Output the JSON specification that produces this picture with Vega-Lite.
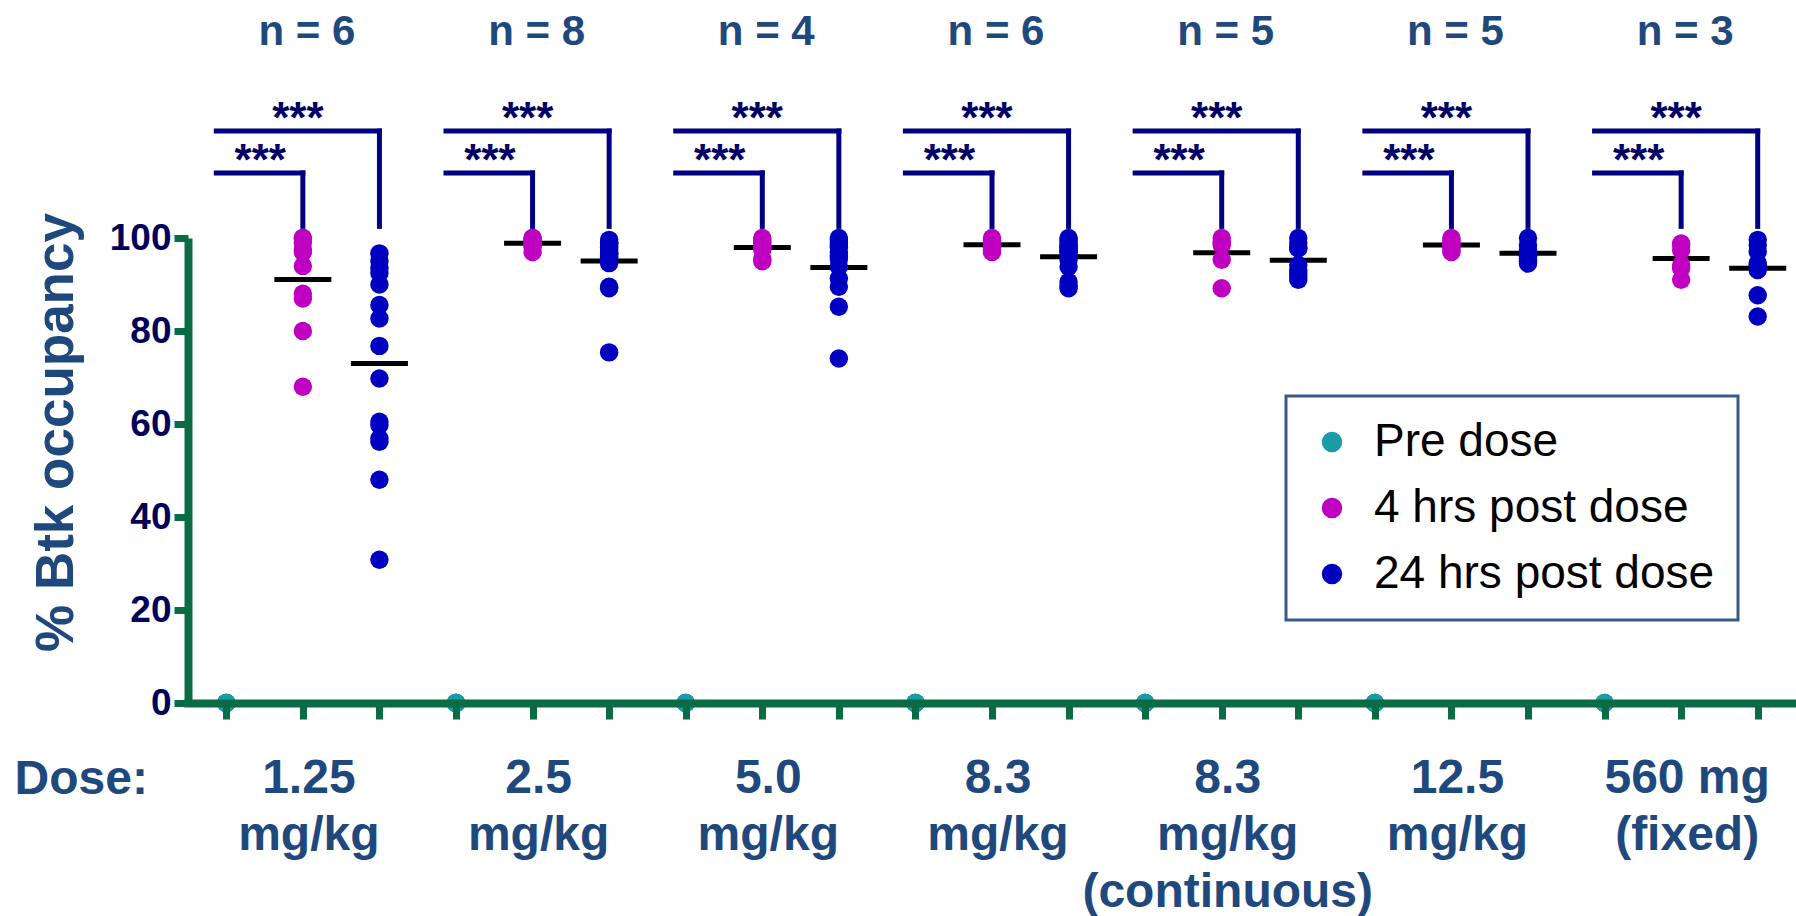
{
  "$schema": "https://vega.github.io/schema/vega-lite/v6.json",
  "width": 1608,
  "height": 465,
  "autosize": {"type": "none"},
  "padding": {"left": 188, "top": 238, "right": 0, "bottom": 213},
  "background": "white",
  "config": {"view": {"stroke": null}, "font": "Liberation Sans", "legend": {"strokeWidth": 3}},
  "datasets": {
    "groups": [
      {"dose": "1.25 mg/kg", "label": "1.25\nmg/kg", "n": "n = 6", "stars": "***", "pre": "1.25 mg/kg | Pre dose", "h4": "1.25 mg/kg | 4 hrs post dose", "h24": "1.25 mg/kg | 24 hrs post dose"},
      {"dose": "2.5 mg/kg", "label": "2.5\nmg/kg", "n": "n = 8", "stars": "***", "pre": "2.5 mg/kg | Pre dose", "h4": "2.5 mg/kg | 4 hrs post dose", "h24": "2.5 mg/kg | 24 hrs post dose"},
      {"dose": "5.0 mg/kg", "label": "5.0\nmg/kg", "n": "n = 4", "stars": "***", "pre": "5.0 mg/kg | Pre dose", "h4": "5.0 mg/kg | 4 hrs post dose", "h24": "5.0 mg/kg | 24 hrs post dose"},
      {"dose": "8.3 mg/kg", "label": "8.3\nmg/kg", "n": "n = 6", "stars": "***", "pre": "8.3 mg/kg | Pre dose", "h4": "8.3 mg/kg | 4 hrs post dose", "h24": "8.3 mg/kg | 24 hrs post dose"},
      {"dose": "8.3 mg/kg (continuous)", "label": "8.3\nmg/kg\n(continuous)", "n": "n = 5", "stars": "***", "pre": "8.3 mg/kg (continuous) | Pre dose", "h4": "8.3 mg/kg (continuous) | 4 hrs post dose", "h24": "8.3 mg/kg (continuous) | 24 hrs post dose"},
      {"dose": "12.5 mg/kg", "label": "12.5\nmg/kg", "n": "n = 5", "stars": "***", "pre": "12.5 mg/kg | Pre dose", "h4": "12.5 mg/kg | 4 hrs post dose", "h24": "12.5 mg/kg | 24 hrs post dose"},
      {"dose": "560 mg (fixed)", "label": "560 mg\n(fixed)", "n": "n = 3", "stars": "***", "pre": "560 mg (fixed) | Pre dose", "h4": "560 mg (fixed) | 4 hrs post dose", "h24": "560 mg (fixed) | 24 hrs post dose"}
    ],
    "points": [
      {"col": "1.25 mg/kg | Pre dose", "time": "Pre dose", "occ": 0},
      {"col": "1.25 mg/kg | Pre dose", "time": "Pre dose", "occ": 0},
      {"col": "1.25 mg/kg | Pre dose", "time": "Pre dose", "occ": 0},
      {"col": "1.25 mg/kg | Pre dose", "time": "Pre dose", "occ": 0},
      {"col": "1.25 mg/kg | Pre dose", "time": "Pre dose", "occ": 0},
      {"col": "1.25 mg/kg | Pre dose", "time": "Pre dose", "occ": 0},
      {"col": "1.25 mg/kg | 4 hrs post dose", "time": "4 hrs post dose", "occ": 100},
      {"col": "1.25 mg/kg | 4 hrs post dose", "time": "4 hrs post dose", "occ": 100},
      {"col": "1.25 mg/kg | 4 hrs post dose", "time": "4 hrs post dose", "occ": 99},
      {"col": "1.25 mg/kg | 4 hrs post dose", "time": "4 hrs post dose", "occ": 97},
      {"col": "1.25 mg/kg | 4 hrs post dose", "time": "4 hrs post dose", "occ": 97.5},
      {"col": "1.25 mg/kg | 4 hrs post dose", "time": "4 hrs post dose", "occ": 94},
      {"col": "1.25 mg/kg | 4 hrs post dose", "time": "4 hrs post dose", "occ": 88},
      {"col": "1.25 mg/kg | 4 hrs post dose", "time": "4 hrs post dose", "occ": 87},
      {"col": "1.25 mg/kg | 4 hrs post dose", "time": "4 hrs post dose", "occ": 80},
      {"col": "1.25 mg/kg | 4 hrs post dose", "time": "4 hrs post dose", "occ": 68},
      {"col": "1.25 mg/kg | 24 hrs post dose", "time": "24 hrs post dose", "occ": 96.7},
      {"col": "1.25 mg/kg | 24 hrs post dose", "time": "24 hrs post dose", "occ": 95},
      {"col": "1.25 mg/kg | 24 hrs post dose", "time": "24 hrs post dose", "occ": 93.5},
      {"col": "1.25 mg/kg | 24 hrs post dose", "time": "24 hrs post dose", "occ": 92.5},
      {"col": "1.25 mg/kg | 24 hrs post dose", "time": "24 hrs post dose", "occ": 90},
      {"col": "1.25 mg/kg | 24 hrs post dose", "time": "24 hrs post dose", "occ": 85.6},
      {"col": "1.25 mg/kg | 24 hrs post dose", "time": "24 hrs post dose", "occ": 82.7},
      {"col": "1.25 mg/kg | 24 hrs post dose", "time": "24 hrs post dose", "occ": 76.8},
      {"col": "1.25 mg/kg | 24 hrs post dose", "time": "24 hrs post dose", "occ": 69.8},
      {"col": "1.25 mg/kg | 24 hrs post dose", "time": "24 hrs post dose", "occ": 60.5},
      {"col": "1.25 mg/kg | 24 hrs post dose", "time": "24 hrs post dose", "occ": 59.8},
      {"col": "1.25 mg/kg | 24 hrs post dose", "time": "24 hrs post dose", "occ": 56.9},
      {"col": "1.25 mg/kg | 24 hrs post dose", "time": "24 hrs post dose", "occ": 56.2},
      {"col": "1.25 mg/kg | 24 hrs post dose", "time": "24 hrs post dose", "occ": 48},
      {"col": "1.25 mg/kg | 24 hrs post dose", "time": "24 hrs post dose", "occ": 30.8},
      {"col": "2.5 mg/kg | Pre dose", "time": "Pre dose", "occ": 0},
      {"col": "2.5 mg/kg | Pre dose", "time": "Pre dose", "occ": 0},
      {"col": "2.5 mg/kg | Pre dose", "time": "Pre dose", "occ": 0},
      {"col": "2.5 mg/kg | Pre dose", "time": "Pre dose", "occ": 0},
      {"col": "2.5 mg/kg | Pre dose", "time": "Pre dose", "occ": 0},
      {"col": "2.5 mg/kg | Pre dose", "time": "Pre dose", "occ": 0},
      {"col": "2.5 mg/kg | Pre dose", "time": "Pre dose", "occ": 0},
      {"col": "2.5 mg/kg | Pre dose", "time": "Pre dose", "occ": 0},
      {"col": "2.5 mg/kg | 4 hrs post dose", "time": "4 hrs post dose", "occ": 100},
      {"col": "2.5 mg/kg | 4 hrs post dose", "time": "4 hrs post dose", "occ": 100},
      {"col": "2.5 mg/kg | 4 hrs post dose", "time": "4 hrs post dose", "occ": 99.5},
      {"col": "2.5 mg/kg | 4 hrs post dose", "time": "4 hrs post dose", "occ": 99},
      {"col": "2.5 mg/kg | 4 hrs post dose", "time": "4 hrs post dose", "occ": 99},
      {"col": "2.5 mg/kg | 4 hrs post dose", "time": "4 hrs post dose", "occ": 98.5},
      {"col": "2.5 mg/kg | 4 hrs post dose", "time": "4 hrs post dose", "occ": 98},
      {"col": "2.5 mg/kg | 4 hrs post dose", "time": "4 hrs post dose", "occ": 97},
      {"col": "2.5 mg/kg | 24 hrs post dose", "time": "24 hrs post dose", "occ": 99.6},
      {"col": "2.5 mg/kg | 24 hrs post dose", "time": "24 hrs post dose", "occ": 99},
      {"col": "2.5 mg/kg | 24 hrs post dose", "time": "24 hrs post dose", "occ": 99},
      {"col": "2.5 mg/kg | 24 hrs post dose", "time": "24 hrs post dose", "occ": 99},
      {"col": "2.5 mg/kg | 24 hrs post dose", "time": "24 hrs post dose", "occ": 98.5},
      {"col": "2.5 mg/kg | 24 hrs post dose", "time": "24 hrs post dose", "occ": 98},
      {"col": "2.5 mg/kg | 24 hrs post dose", "time": "24 hrs post dose", "occ": 97.5},
      {"col": "2.5 mg/kg | 24 hrs post dose", "time": "24 hrs post dose", "occ": 97},
      {"col": "2.5 mg/kg | 24 hrs post dose", "time": "24 hrs post dose", "occ": 96.8},
      {"col": "2.5 mg/kg | 24 hrs post dose", "time": "24 hrs post dose", "occ": 96.5},
      {"col": "2.5 mg/kg | 24 hrs post dose", "time": "24 hrs post dose", "occ": 96},
      {"col": "2.5 mg/kg | 24 hrs post dose", "time": "24 hrs post dose", "occ": 95.7},
      {"col": "2.5 mg/kg | 24 hrs post dose", "time": "24 hrs post dose", "occ": 95},
      {"col": "2.5 mg/kg | 24 hrs post dose", "time": "24 hrs post dose", "occ": 94.6},
      {"col": "2.5 mg/kg | 24 hrs post dose", "time": "24 hrs post dose", "occ": 89.5},
      {"col": "2.5 mg/kg | 24 hrs post dose", "time": "24 hrs post dose", "occ": 89.2},
      {"col": "2.5 mg/kg | 24 hrs post dose", "time": "24 hrs post dose", "occ": 75.4},
      {"col": "5.0 mg/kg | Pre dose", "time": "Pre dose", "occ": 0},
      {"col": "5.0 mg/kg | Pre dose", "time": "Pre dose", "occ": 0},
      {"col": "5.0 mg/kg | Pre dose", "time": "Pre dose", "occ": 0},
      {"col": "5.0 mg/kg | Pre dose", "time": "Pre dose", "occ": 0},
      {"col": "5.0 mg/kg | 4 hrs post dose", "time": "4 hrs post dose", "occ": 100},
      {"col": "5.0 mg/kg | 4 hrs post dose", "time": "4 hrs post dose", "occ": 99.5},
      {"col": "5.0 mg/kg | 4 hrs post dose", "time": "4 hrs post dose", "occ": 99},
      {"col": "5.0 mg/kg | 4 hrs post dose", "time": "4 hrs post dose", "occ": 99},
      {"col": "5.0 mg/kg | 4 hrs post dose", "time": "4 hrs post dose", "occ": 98},
      {"col": "5.0 mg/kg | 4 hrs post dose", "time": "4 hrs post dose", "occ": 97.5},
      {"col": "5.0 mg/kg | 4 hrs post dose", "time": "4 hrs post dose", "occ": 95.5},
      {"col": "5.0 mg/kg | 4 hrs post dose", "time": "4 hrs post dose", "occ": 95},
      {"col": "5.0 mg/kg | 24 hrs post dose", "time": "24 hrs post dose", "occ": 100},
      {"col": "5.0 mg/kg | 24 hrs post dose", "time": "24 hrs post dose", "occ": 99.6},
      {"col": "5.0 mg/kg | 24 hrs post dose", "time": "24 hrs post dose", "occ": 99},
      {"col": "5.0 mg/kg | 24 hrs post dose", "time": "24 hrs post dose", "occ": 98.5},
      {"col": "5.0 mg/kg | 24 hrs post dose", "time": "24 hrs post dose", "occ": 98},
      {"col": "5.0 mg/kg | 24 hrs post dose", "time": "24 hrs post dose", "occ": 97},
      {"col": "5.0 mg/kg | 24 hrs post dose", "time": "24 hrs post dose", "occ": 96},
      {"col": "5.0 mg/kg | 24 hrs post dose", "time": "24 hrs post dose", "occ": 95.5},
      {"col": "5.0 mg/kg | 24 hrs post dose", "time": "24 hrs post dose", "occ": 93.8},
      {"col": "5.0 mg/kg | 24 hrs post dose", "time": "24 hrs post dose", "occ": 91.3},
      {"col": "5.0 mg/kg | 24 hrs post dose", "time": "24 hrs post dose", "occ": 89.5},
      {"col": "5.0 mg/kg | 24 hrs post dose", "time": "24 hrs post dose", "occ": 85.2},
      {"col": "5.0 mg/kg | 24 hrs post dose", "time": "24 hrs post dose", "occ": 74.1},
      {"col": "8.3 mg/kg | Pre dose", "time": "Pre dose", "occ": 0},
      {"col": "8.3 mg/kg | Pre dose", "time": "Pre dose", "occ": 0},
      {"col": "8.3 mg/kg | Pre dose", "time": "Pre dose", "occ": 0},
      {"col": "8.3 mg/kg | Pre dose", "time": "Pre dose", "occ": 0},
      {"col": "8.3 mg/kg | Pre dose", "time": "Pre dose", "occ": 0},
      {"col": "8.3 mg/kg | Pre dose", "time": "Pre dose", "occ": 0},
      {"col": "8.3 mg/kg | 4 hrs post dose", "time": "4 hrs post dose", "occ": 100},
      {"col": "8.3 mg/kg | 4 hrs post dose", "time": "4 hrs post dose", "occ": 99.5},
      {"col": "8.3 mg/kg | 4 hrs post dose", "time": "4 hrs post dose", "occ": 99},
      {"col": "8.3 mg/kg | 4 hrs post dose", "time": "4 hrs post dose", "occ": 99},
      {"col": "8.3 mg/kg | 4 hrs post dose", "time": "4 hrs post dose", "occ": 98.5},
      {"col": "8.3 mg/kg | 4 hrs post dose", "time": "4 hrs post dose", "occ": 98},
      {"col": "8.3 mg/kg | 4 hrs post dose", "time": "4 hrs post dose", "occ": 97.5},
      {"col": "8.3 mg/kg | 4 hrs post dose", "time": "4 hrs post dose", "occ": 97},
      {"col": "8.3 mg/kg | 24 hrs post dose", "time": "24 hrs post dose", "occ": 100},
      {"col": "8.3 mg/kg | 24 hrs post dose", "time": "24 hrs post dose", "occ": 99.5},
      {"col": "8.3 mg/kg | 24 hrs post dose", "time": "24 hrs post dose", "occ": 99},
      {"col": "8.3 mg/kg | 24 hrs post dose", "time": "24 hrs post dose", "occ": 98.5},
      {"col": "8.3 mg/kg | 24 hrs post dose", "time": "24 hrs post dose", "occ": 98.1},
      {"col": "8.3 mg/kg | 24 hrs post dose", "time": "24 hrs post dose", "occ": 98},
      {"col": "8.3 mg/kg | 24 hrs post dose", "time": "24 hrs post dose", "occ": 97.5},
      {"col": "8.3 mg/kg | 24 hrs post dose", "time": "24 hrs post dose", "occ": 97.1},
      {"col": "8.3 mg/kg | 24 hrs post dose", "time": "24 hrs post dose", "occ": 97.1},
      {"col": "8.3 mg/kg | 24 hrs post dose", "time": "24 hrs post dose", "occ": 95.3},
      {"col": "8.3 mg/kg | 24 hrs post dose", "time": "24 hrs post dose", "occ": 93.8},
      {"col": "8.3 mg/kg | 24 hrs post dose", "time": "24 hrs post dose", "occ": 90.6},
      {"col": "8.3 mg/kg | 24 hrs post dose", "time": "24 hrs post dose", "occ": 89.6},
      {"col": "8.3 mg/kg | 24 hrs post dose", "time": "24 hrs post dose", "occ": 89.2},
      {"col": "8.3 mg/kg (continuous) | Pre dose", "time": "Pre dose", "occ": 0},
      {"col": "8.3 mg/kg (continuous) | Pre dose", "time": "Pre dose", "occ": 0},
      {"col": "8.3 mg/kg (continuous) | Pre dose", "time": "Pre dose", "occ": 0},
      {"col": "8.3 mg/kg (continuous) | Pre dose", "time": "Pre dose", "occ": 0},
      {"col": "8.3 mg/kg (continuous) | Pre dose", "time": "Pre dose", "occ": 0},
      {"col": "8.3 mg/kg (continuous) | 4 hrs post dose", "time": "4 hrs post dose", "occ": 100},
      {"col": "8.3 mg/kg (continuous) | 4 hrs post dose", "time": "4 hrs post dose", "occ": 99.2},
      {"col": "8.3 mg/kg (continuous) | 4 hrs post dose", "time": "4 hrs post dose", "occ": 98.9},
      {"col": "8.3 mg/kg (continuous) | 4 hrs post dose", "time": "4 hrs post dose", "occ": 98.5},
      {"col": "8.3 mg/kg (continuous) | 4 hrs post dose", "time": "4 hrs post dose", "occ": 95.3},
      {"col": "8.3 mg/kg (continuous) | 4 hrs post dose", "time": "4 hrs post dose", "occ": 89.2},
      {"col": "8.3 mg/kg (continuous) | 24 hrs post dose", "time": "24 hrs post dose", "occ": 100},
      {"col": "8.3 mg/kg (continuous) | 24 hrs post dose", "time": "24 hrs post dose", "occ": 98.9},
      {"col": "8.3 mg/kg (continuous) | 24 hrs post dose", "time": "24 hrs post dose", "occ": 97.8},
      {"col": "8.3 mg/kg (continuous) | 24 hrs post dose", "time": "24 hrs post dose", "occ": 97.8},
      {"col": "8.3 mg/kg (continuous) | 24 hrs post dose", "time": "24 hrs post dose", "occ": 94.2},
      {"col": "8.3 mg/kg (continuous) | 24 hrs post dose", "time": "24 hrs post dose", "occ": 93.1},
      {"col": "8.3 mg/kg (continuous) | 24 hrs post dose", "time": "24 hrs post dose", "occ": 92.4},
      {"col": "8.3 mg/kg (continuous) | 24 hrs post dose", "time": "24 hrs post dose", "occ": 91.7},
      {"col": "8.3 mg/kg (continuous) | 24 hrs post dose", "time": "24 hrs post dose", "occ": 91},
      {"col": "12.5 mg/kg | Pre dose", "time": "Pre dose", "occ": 0},
      {"col": "12.5 mg/kg | Pre dose", "time": "Pre dose", "occ": 0},
      {"col": "12.5 mg/kg | Pre dose", "time": "Pre dose", "occ": 0},
      {"col": "12.5 mg/kg | Pre dose", "time": "Pre dose", "occ": 0},
      {"col": "12.5 mg/kg | Pre dose", "time": "Pre dose", "occ": 0},
      {"col": "12.5 mg/kg | 4 hrs post dose", "time": "4 hrs post dose", "occ": 100},
      {"col": "12.5 mg/kg | 4 hrs post dose", "time": "4 hrs post dose", "occ": 99.5},
      {"col": "12.5 mg/kg | 4 hrs post dose", "time": "4 hrs post dose", "occ": 99},
      {"col": "12.5 mg/kg | 4 hrs post dose", "time": "4 hrs post dose", "occ": 98.5},
      {"col": "12.5 mg/kg | 4 hrs post dose", "time": "4 hrs post dose", "occ": 98},
      {"col": "12.5 mg/kg | 4 hrs post dose", "time": "4 hrs post dose", "occ": 97.5},
      {"col": "12.5 mg/kg | 4 hrs post dose", "time": "4 hrs post dose", "occ": 97},
      {"col": "12.5 mg/kg | 24 hrs post dose", "time": "24 hrs post dose", "occ": 100},
      {"col": "12.5 mg/kg | 24 hrs post dose", "time": "24 hrs post dose", "occ": 98.5},
      {"col": "12.5 mg/kg | 24 hrs post dose", "time": "24 hrs post dose", "occ": 97.5},
      {"col": "12.5 mg/kg | 24 hrs post dose", "time": "24 hrs post dose", "occ": 97},
      {"col": "12.5 mg/kg | 24 hrs post dose", "time": "24 hrs post dose", "occ": 96.5},
      {"col": "12.5 mg/kg | 24 hrs post dose", "time": "24 hrs post dose", "occ": 96},
      {"col": "12.5 mg/kg | 24 hrs post dose", "time": "24 hrs post dose", "occ": 95.5},
      {"col": "12.5 mg/kg | 24 hrs post dose", "time": "24 hrs post dose", "occ": 95},
      {"col": "12.5 mg/kg | 24 hrs post dose", "time": "24 hrs post dose", "occ": 94.5},
      {"col": "560 mg (fixed) | Pre dose", "time": "Pre dose", "occ": 0},
      {"col": "560 mg (fixed) | Pre dose", "time": "Pre dose", "occ": 0},
      {"col": "560 mg (fixed) | Pre dose", "time": "Pre dose", "occ": 0},
      {"col": "560 mg (fixed) | 4 hrs post dose", "time": "4 hrs post dose", "occ": 98.8},
      {"col": "560 mg (fixed) | 4 hrs post dose", "time": "4 hrs post dose", "occ": 98.5},
      {"col": "560 mg (fixed) | 4 hrs post dose", "time": "4 hrs post dose", "occ": 97.4},
      {"col": "560 mg (fixed) | 4 hrs post dose", "time": "4 hrs post dose", "occ": 94.2},
      {"col": "560 mg (fixed) | 4 hrs post dose", "time": "4 hrs post dose", "occ": 93.5},
      {"col": "560 mg (fixed) | 4 hrs post dose", "time": "4 hrs post dose", "occ": 91},
      {"col": "560 mg (fixed) | 24 hrs post dose", "time": "24 hrs post dose", "occ": 99.6},
      {"col": "560 mg (fixed) | 24 hrs post dose", "time": "24 hrs post dose", "occ": 98.5},
      {"col": "560 mg (fixed) | 24 hrs post dose", "time": "24 hrs post dose", "occ": 97.1},
      {"col": "560 mg (fixed) | 24 hrs post dose", "time": "24 hrs post dose", "occ": 94.6},
      {"col": "560 mg (fixed) | 24 hrs post dose", "time": "24 hrs post dose", "occ": 94.2},
      {"col": "560 mg (fixed) | 24 hrs post dose", "time": "24 hrs post dose", "occ": 93.1},
      {"col": "560 mg (fixed) | 24 hrs post dose", "time": "24 hrs post dose", "occ": 87.7},
      {"col": "560 mg (fixed) | 24 hrs post dose", "time": "24 hrs post dose", "occ": 83.1}
    ]
  },
  "layer": [
    {
      "data": {"name": "points"},
      "transform": [{"filter": "datum.time !== 'Pre dose'"}],
      "mark": {"type": "tick", "color": "black", "thickness": 5, "size": 57, "opacity": 1},
      "encoding": {
        "x": {
          "field": "col", "type": "nominal",
          "scale": {"type": "point", "padding": 0.5, "domain": [
            "1.25 mg/kg | Pre dose", "1.25 mg/kg | 4 hrs post dose", "1.25 mg/kg | 24 hrs post dose",
            "2.5 mg/kg | Pre dose", "2.5 mg/kg | 4 hrs post dose", "2.5 mg/kg | 24 hrs post dose",
            "5.0 mg/kg | Pre dose", "5.0 mg/kg | 4 hrs post dose", "5.0 mg/kg | 24 hrs post dose",
            "8.3 mg/kg | Pre dose", "8.3 mg/kg | 4 hrs post dose", "8.3 mg/kg | 24 hrs post dose",
            "8.3 mg/kg (continuous) | Pre dose", "8.3 mg/kg (continuous) | 4 hrs post dose", "8.3 mg/kg (continuous) | 24 hrs post dose",
            "12.5 mg/kg | Pre dose", "12.5 mg/kg | 4 hrs post dose", "12.5 mg/kg | 24 hrs post dose",
            "560 mg (fixed) | Pre dose", "560 mg (fixed) | 4 hrs post dose", "560 mg (fixed) | 24 hrs post dose"
          ]},
          "axis": {
            "title": "Dose:", "titleX": -174, "titleY": 90, "titleAlign": "left", "titleAngle": 0,
            "titleBaseline": "alphabetic", "titleFontSize": 48, "titleFontWeight": "bold",
            "titleColor": "#1F497D", "titleFont": "Liberation Sans",
            "labels": false, "grid": false,
            "domainColor": "#0A6B45", "domainWidth": 8, "domainCap": "square",
            "tickColor": "#0A6B45", "tickWidth": 7, "tickSize": 16, "zindex": 1
          }
        },
        "y": {
          "aggregate": "mean", "field": "occ", "type": "quantitative",
          "scale": {"domain": [0, 100], "nice": false, "zero": false},
          "axis": {
            "values": [0, 20, 40, 60, 80, 100], "grid": false,
            "title": "% Btk occupancy", "titleFontSize": 53, "titleFontWeight": "bold",
            "titleColor": "#1F497D", "titleFont": "Liberation Sans",
            "titleX": -116, "titleY": 194, "titleAngle": -90, "titleAlign": "center", "titleBaseline": "alphabetic",
            "labelFontSize": 37, "labelFontWeight": "bold", "labelColor": "#00005A", "labelFont": "Liberation Sans",
            "labelPadding": 3, "labelFlush": false, "labelOverlap": false,
            "domainColor": "#0A6B45", "domainWidth": 8, "tickColor": "#0A6B45", "tickWidth": 7, "tickSize": 14
          }
        }
      }
    },
    {
      "data": {"name": "points"},
      "mark": {"type": "circle", "size": 340, "opacity": 1, "strokeWidth": 0},
      "encoding": {
        "x": {"field": "col", "type": "nominal"},
        "y": {"field": "occ", "type": "quantitative", "scale": {"domain": [0, 100], "nice": false, "zero": false}},
        "color": {
          "field": "time", "type": "nominal",
          "scale": {"domain": ["Pre dose", "4 hrs post dose", "24 hrs post dose"], "range": ["#1A9BA8", "#C000C0", "#0000C0"]},
          "legend": {
            "orient": "none", "legendX": 1098, "legendY": 158, "title": null,
            "padding": 23, "strokeColor": "#3A5A8C", "fillColor": "white",
            "labelFontSize": 46, "labelFont": "Liberation Sans", "labelColor": "black", "labelLimit": 900,
            "labelExpr": "datum.label + '\u00a0\u00a0\u00a0\u00a0'",
            "symbolType": "circle", "symbolSize": 420, "symbolStrokeWidth": 0, "symbolOpacity": 1,
            "labelOffset": 19, "rowPadding": 20
          }
        }
      }
    },
    {
      "data": {"name": "groups"},
      "mark": {"type": "rule", "color": "#000080", "strokeWidth": 5, "strokeCap": "square", "xOffset": -10},
      "encoding": {
        "x": {"field": "pre", "type": "nominal"},
        "x2": {"field": "h24"},
        "y": {"datum": 123, "type": "quantitative"}
      }
    },
    {
      "data": {"name": "groups"},
      "mark": {"type": "rule", "color": "#000080", "strokeWidth": 5, "strokeCap": "square"},
      "encoding": {
        "x": {"field": "h24", "type": "nominal"},
        "y": {"datum": 123, "type": "quantitative"},
        "y2": {"datum": 102.5}
      }
    },
    {
      "data": {"name": "groups"},
      "mark": {"type": "rule", "color": "#000080", "strokeWidth": 5, "strokeCap": "square", "xOffset": -10},
      "encoding": {
        "x": {"field": "pre", "type": "nominal"},
        "x2": {"field": "h4"},
        "y": {"datum": 114, "type": "quantitative"}
      }
    },
    {
      "data": {"name": "groups"},
      "mark": {"type": "rule", "color": "#000080", "strokeWidth": 5, "strokeCap": "square"},
      "encoding": {
        "x": {"field": "h4", "type": "nominal"},
        "y": {"datum": 114, "type": "quantitative"},
        "y2": {"datum": 102.5}
      }
    },
    {
      "data": {"name": "groups"},
      "mark": {"type": "text", "color": "#000066", "font": "Liberation Sans", "fontWeight": "bold", "fontSize": 44, "baseline": "alphabetic", "align": "center", "dy": 2, "dx": -5},
      "encoding": {
        "x": {"field": "h4", "type": "nominal"},
        "y": {"datum": 123, "type": "quantitative"},
        "text": {"field": "stars"}
      }
    },
    {
      "data": {"name": "groups"},
      "mark": {"type": "text", "color": "#000066", "font": "Liberation Sans", "fontWeight": "bold", "fontSize": 44, "baseline": "alphabetic", "align": "center", "dy": 2, "dx": 34},
      "encoding": {
        "x": {"field": "pre", "type": "nominal"},
        "y": {"datum": 114, "type": "quantitative"},
        "text": {"field": "stars"}
      }
    },
    {
      "data": {"name": "groups"},
      "mark": {"type": "text", "color": "#1F497D", "font": "Liberation Sans", "fontWeight": "bold", "fontSize": 42, "baseline": "alphabetic", "align": "center", "dx": 4},
      "encoding": {
        "x": {"field": "h4", "type": "nominal"},
        "y": {"datum": 141.5, "type": "quantitative"},
        "text": {"field": "n"}
      }
    },
    {
      "data": {"name": "groups"},
      "mark": {"type": "text", "color": "#1F497D", "font": "Liberation Sans", "fontWeight": "bold", "fontSize": 48, "baseline": "alphabetic", "align": "center", "lineBreak": "\n", "lineHeight": 57, "dx": 6},
      "encoding": {
        "x": {"field": "h4", "type": "nominal"},
        "y": {"datum": -19.35, "type": "quantitative"},
        "text": {"field": "label"}
      }
    }
  ]
}
